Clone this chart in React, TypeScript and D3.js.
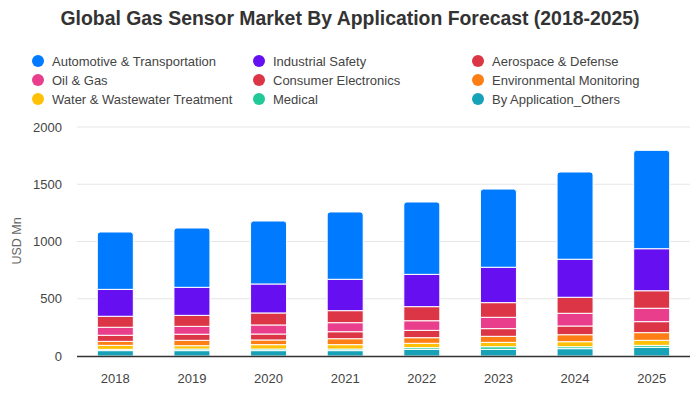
import React from "react";
import * as d3 from "d3";

const years = ["2018", "2019", "2020", "2021", "2022", "2023", "2024", "2025"];
const seriesNames = [
  "By Application_Others",
  "Medical",
  "Water & Wastewater Treatment",
  "Environmental Monitoring",
  "Consumer Electronics",
  "Oil & Gas",
  "Aerospace & Defense",
  "Industrial Safety",
  "Automotive & Transportation",
];
const others = [47, 47, 47, 47, 58, 58, 64, 76];
const medical = [11, 14, 14, 14, 15, 23, 17, 17];
const water = [35, 29, 38, 38, 38, 38, 44, 44];
const environmental = [35, 47, 41, 52, 49, 53, 61, 67];
const consumer = [53, 53, 52, 61, 64, 67, 76, 96];
const oilGas = [70, 69, 79, 79, 84, 99, 111, 117];
const aerospace = [96, 96, 105, 105, 123, 128, 140, 153];
const industrial = [235, 245, 253, 274, 282, 309, 332, 367];
const automotive = [501, 518, 550, 588, 632, 683, 762, 859];
const yTicks = [0, 500, 1000, 1500, 2000];

const seriesValues = [others, medical, water, environmental, consumer, oilGas, aerospace, industrial, automotive];
const colors = ["#17a2b8", "#20c997", "#ffc107", "#fd7e14", "#dc3545", "#e83e8c", "#dc3545", "#6610f2", "#007bff"];

const legendOrder = [
  "Automotive & Transportation", "Industrial Safety", "Aerospace & Defense",
  "Oil & Gas", "Consumer Electronics", "Environmental Monitoring",
  "Water & Wastewater Treatment", "Medical", "By Application_Others",
];

const FONT = "'Liberation Sans', Arial, sans-serif";

export default function App() {
  const W = 700, H = 400;
  const x = d3.scaleBand<string>().domain(years).range([77, 690]).paddingInner(0.53).paddingOuter(0.265);
  const y = d3.scaleLinear().domain([0, 2000]).range([356, 127]);

  const rows = years.map((yr, i) => {
    const r: any = { year: yr };
    seriesNames.forEach((s, k) => (r[s] = seriesValues[k][i]));
    return r;
  });
  const stacked = d3.stack<any>().keys(seriesNames)(rows);

  const roundedTop = (x0: number, y0: number, w: number, h: number, r: number) => {
    const p = d3.path();
    p.moveTo(x0, y0 + h);
    p.lineTo(x0, y0 + r);
    p.arcTo(x0, y0, x0 + r, y0, r);
    p.lineTo(x0 + w - r, y0);
    p.arcTo(x0 + w, y0, x0 + w, y0 + r, r);
    p.lineTo(x0 + w, y0 + h);
    p.closePath();
    return p.toString();
  };

  const legendCols = [38, 259, 478];
  const legendRows = [61, 80, 99];

  return (
    <svg width={W} height={H} style={{ display: "block", position: "absolute", left: 0, top: 0, background: "#fff" }} fontFamily={FONT}>
      <text x={350} y={25} textAnchor="middle" fontSize={19.4} fontWeight="bold" fill="#333">
        Global Gas Sensor Market By Application Forecast (2018-2025)
      </text>
      {legendOrder.map((name, i) => {
        const k = seriesNames.indexOf(name);
        const cx = legendCols[i % 3];
        const cy = legendRows[Math.floor(i / 3)];
        return (
          <g key={name}>
            <circle cx={cx} cy={cy} r={6} fill={colors[k]} />
            <text x={cx + 14} y={cy} dy="0.35em" fontSize={13} fill="#444">{name}</text>
          </g>
        );
      })}
      {yTicks.map((t) => (
        <g key={t}>
          {t !== 0 && <line x1={77} x2={690} y1={y(t)} y2={y(t)} stroke="#e6e6e6" strokeWidth={1} />}
          <text x={62} y={y(t)} dy="0.35em" textAnchor="end" fontSize={13} fill="#444">{t}</text>
        </g>
      ))}
      <text transform={`translate(21,241) rotate(-90)`} textAnchor="middle" fontSize={12.5} fill="#666">USD Mn</text>
      {stacked.map((layer, li) => (
        <g key={layer.key} fill={colors[li]}>
          {layer.map((d, i) => {
            const x0 = x(years[i])!;
            const w = x.bandwidth();
            const yTop = y(d[1]);
            const h = y(d[0]) - y(d[1]);
            if (li === stacked.length - 1) {
              return <path key={i} d={roundedTop(x0, yTop, w, h, 3)} stroke="#fff" strokeWidth={1} />;
            }
            return <rect key={i} x={x0} y={yTop} width={w} height={h} stroke="#fff" strokeWidth={1} />;
          })}
        </g>
      ))}
      <line x1={77} x2={690} y1={356.5} y2={356.5} stroke="#333" strokeWidth={1.5} />
      {years.map((yr) => (
        <text key={yr} x={x(yr)! + x.bandwidth() / 2} y={383} textAnchor="middle" fontSize={13} fill="#444">{yr}</text>
      ))}
    </svg>
  );
}
